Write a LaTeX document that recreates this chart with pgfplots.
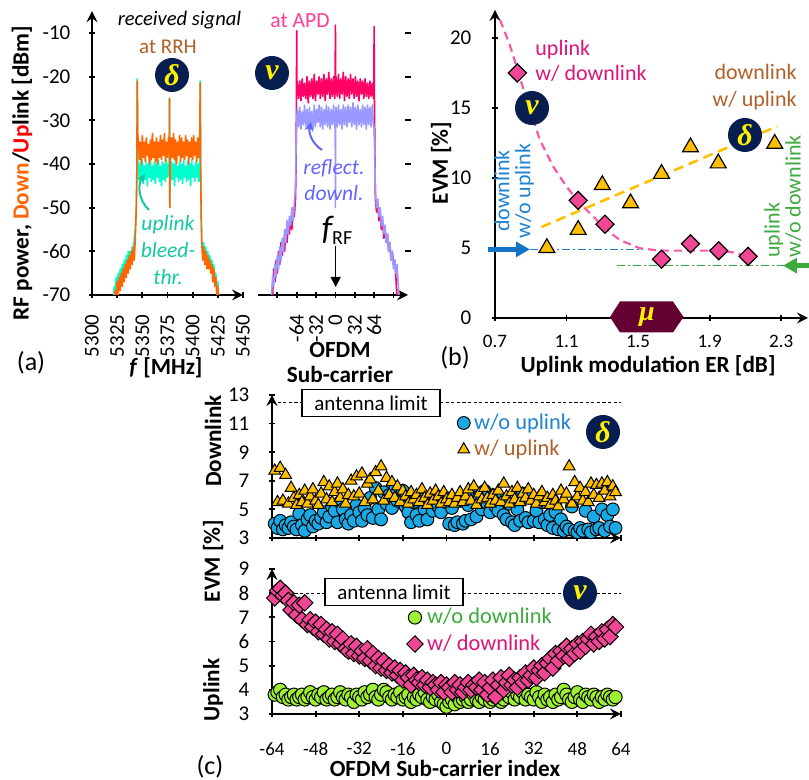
\documentclass[border=0pt]{standalone}
\usepackage{fontspec}
\setmainfont{Carlito}
\newfontfamily\grk{Liberation Serif}
\usepackage{pgfplots}
\pgfplotsset{compat=1.18}
\usepackage{pgfplotstable}
\usetikzlibrary{arrows.meta}
\definecolor{cOrange}{RGB}{255,102,0}
\definecolor{cTeal}{RGB}{0,255,204}
\definecolor{cTealTxt}{RGB}{20,200,160}
\definecolor{cPinkSp}{RGB}{255,0,102}
\definecolor{cLBlue}{RGB}{153,153,255}
\definecolor{cBlueTxt}{RGB}{100,100,255}
\definecolor{cBrown}{RGB}{176,96,40}
\definecolor{cAPD}{RGB}{255,60,150}
\definecolor{cNavy}{RGB}{8,30,80}
\definecolor{cMaroon}{RGB}{100,0,50}
\definecolor{cGold}{RGB}{255,192,0}
\definecolor{cCyan}{RGB}{25,170,230}
\definecolor{cLime}{RGB}{160,240,50}
\definecolor{cPinkM}{RGB}{240,70,150}
\definecolor{cPinkTxt}{RGB}{220,20,120}
\definecolor{cBlueLbl}{RGB}{30,130,210}
\definecolor{cGreenLbl}{RGB}{60,170,60}
\definecolor{cFitPink}{RGB}{245,90,170}
\definecolor{cBlueArr}{RGB}{20,115,200}
\newcommand\fsT{\fontsize{10.5}{12}\selectfont}
\newcommand\fsTs{\fontsize{9.5}{11}\selectfont}
\newcommand\fsLab{\fontsize{11.6}{12.5}\selectfont\bfseries}
\newcommand\fsP{\fontsize{13}{14}\selectfont}

\pgfplotstableread{
x dlwo dlw ulwo ulw
-63 4.0 7.7 3.8 7.8
-62 3.7 5.5 3.9 8.1
-61 4.2 7.9 4.0 8.2
-60 3.6 5.6 3.7 7.9
-59 3.9 7.4 3.8 8.0
-58 3.7 5.4 3.6 7.7
-57 4.1 6.5 3.7 7.3
-56 3.8 5.8 3.8 7.6
-55 3.6 5.3 3.6 7.1
-54 4.7 6.0 3.7 7.5
-53 3.9 5.5 3.8 6.9
-52 3.5 6.3 3.6 7.6
-51 4.3 5.4 3.7 6.7
-50 4.6 5.9 3.9 6.9
-49 3.8 6.4 3.7 6.6
-48 4.2 5.6 3.6 6.8
-47 4.0 5.3 3.8 6.4
-46 4.4 6.1 3.7 6.7
-45 4.8 6.9 3.9 6.3
-44 4.1 5.7 3.6 6.5
-43 4.5 6.6 3.7 6.1
-42 5.2 5.5 3.8 6.4
-41 4.9 6.2 3.6 6.0
-40 4.1 6.8 3.7 6.3
-39 5.5 5.8 3.9 5.9
-38 5.0 6.4 3.7 6.1
-37 4.3 5.4 3.6 5.7
-36 4.0 6.0 3.8 5.6
-35 4.6 7.0 3.7 5.9
-34 4.2 5.9 3.5 5.5
-33 5.3 7.3 3.8 5.8
-32 4.8 6.1 3.7 5.4
-31 4.2 7.5 3.6 5.6
-30 5.1 5.5 3.9 5.3
-29 4.6 6.8 3.7 5.7
-28 5.8 7.1 3.8 5.2
-27 4.4 5.7 4.0 5.5
-26 6.5 7.6 3.7 5.0
-25 5.0 6.3 3.6 5.3
-24 4.3 8.0 3.8 4.9
-23 6.2 5.6 4.0 5.2
-22 5.4 7.2 3.9 4.8
-21 6.0 6.0 3.7 5.0
-20 5.1 6.9 3.6 4.7
-19 6.4 5.8 3.8 4.9
-18 5.6 6.6 3.7 4.6
-17 5.9 5.5 3.9 4.8
-16 6.3 6.3 3.6 4.4
-15 5.2 5.9 3.7 4.7
-14 4.8 5.4 3.8 4.5
-13 4.1 6.2 3.5 4.2
-12 5.5 5.7 3.7 4.6
-11 4.6 6.0 3.6 4.4
-10 4.2 5.5 3.8 4.3
-9 5.7 6.4 3.7 4.5
-8 5.0 5.8 3.9 4.2
-7 4.3 5.3 3.6 4.4
-6 5.4 6.1 3.5 4.1
-5 4.9 5.6 3.7 4.3
-4 5.8 6.3 3.6 4.2
-3 5.2 5.9 3.8 4.0
-2 4.8 5.4 3.5 4.3
-1 5.9 6.2 3.4 3.9
0 5.5 5.7 3.3 4.2
1 4.0 5.5 3.5 4.1
2 5.1 6.0 3.6 3.9
3 3.9 5.4 3.4 4.3
4 4.1 5.8 3.7 4.0
5 5.6 6.2 3.5 4.2
6 4.0 5.5 3.6 3.9
7 4.2 5.9 3.7 4.1
8 5.3 6.4 3.5 4.3
9 4.3 5.6 3.6 4.0
10 6.2 6.6 3.8 4.2
11 4.5 5.3 3.6 4.1
12 5.9 6.1 3.5 4.4
13 5.0 5.7 3.7 4.0
14 6.3 6.5 3.6 4.3
15 5.4 5.8 3.8 3.8
16 4.8 5.4 3.5 4.1
17 6.0 6.0 3.6 4.4
18 5.2 5.6 3.7 3.7
19 4.9 6.3 3.9 4.2
20 5.7 5.5 3.5 4.5
21 4.6 6.8 3.6 4.0
22 4.3 5.9 3.8 4.3
23 5.4 5.4 3.7 4.6
24 4.1 6.2 3.9 4.2
25 3.9 5.7 3.6 4.4
26 5.0 6.5 3.8 4.1
27 4.2 5.5 3.7 4.5
28 6.1 6.1 3.9 4.3
29 4.4 5.8 3.6 4.7
30 4.1 6.4 3.8 4.4
31 5.8 5.6 3.7 4.6
32 4.2 6.0 3.6 4.9
33 4.9 5.4 3.9 4.5
34 4.1 5.9 3.7 4.8
35 5.5 6.2 3.5 5.0
36 4.3 5.5 3.8 4.7
37 3.9 5.8 3.6 5.1
38 4.6 5.3 3.7 5.3
39 3.7 6.0 3.5 4.9
40 4.8 5.6 3.8 5.5
41 3.6 5.2 3.6 5.2
42 4.3 6.3 3.7 5.6
43 3.5 5.7 4.0 5.4
44 3.8 6.1 3.8 5.8
45 3.6 8.0 3.6 5.3
46 5.2 5.4 3.5 5.7
47 3.5 6.9 3.7 5.5
48 3.4 5.9 3.9 5.9
49 3.7 6.5 3.6 5.6
50 3.5 5.6 3.5 6.0
51 4.9 6.2 3.8 5.8
52 3.6 5.5 3.7 6.1
53 3.4 6.8 3.6 6.3
54 4.5 6.0 3.8 5.9
55 3.6 6.7 3.7 6.2
56 3.7 5.8 3.5 6.0
57 5.0 6.8 3.7 6.4
58 3.5 6.3 3.6 6.1
59 4.6 6.9 3.8 6.5
60 3.8 5.9 3.7 6.2
61 5.0 6.6 3.6 6.7
62 3.7 6.2 3.7 6.6
}\evmtab

\pgfplotsset{
  common/.style={scale only axis, anchor=south west,
    axis line style={-, line width=1.4pt},
    tick style={black, line width=0.9pt}, major tick length=2.6pt,
    /pgf/number format/assume math mode=true,
    /pgf/number format/set thousands separator={}},
}
\tikzset{badge/.style={circle, fill=cNavy, text=yellow, inner sep=0pt, minimum size=17pt,
  font=\grk\bfseries\itshape\fontsize{15}{15}\selectfont}}

\begin{document}
\begin{tikzpicture}
\useasboundingbox (0,0) rectangle (404.5pt,390pt);

% ---------------- (a) left: spectrum at RRH
\begin{axis}[common, at={(46pt,242.5pt)}, width=75.5pt, height=141.9pt,
  xmin=5300, xmax=5450, ymin=-70, ymax=-5,
  axis x line=bottom, axis y line=left,
  xtick={5300,5325,...,5450}, ytick={-70,-60,...,-10},
  xticklabel style={rotate=90, anchor=east, font=\fsT}, xticklabel shift=5pt,
  yticklabel style={font=\fsT}, yticklabel shift=6pt]
\addplot[cTeal, line width=0.8pt, line join=round] coordinates {
(5321,-73) (5322,-68) (5323,-70) (5324,-66) (5325,-69) (5326,-65) (5327,-68) (5328,-64) (5329,-67) (5330,-63) (5331,-66) (5332,-62) (5333,-65) (5334,-61) (5335,-64) (5336,-60) (5337,-63) (5338,-60) (5339,-62) (5340,-59) (5341,-61) (5342,-57) (5343,-55) (5344,-50) (5344.5,-44) (5345,-20.5) (5345.5,-40)
(5346,-39.5) (5347,-44) (5348,-40) (5349,-43) (5350,-39) (5351,-44.5) (5352,-40.5) (5353,-43.5) (5354,-39.5) (5355,-45) (5356,-40) (5357,-43) (5358,-39) (5359,-44) (5360,-40.5) (5361,-43.5) (5362,-39.5) (5363,-44.5) (5364,-40) (5365,-43) (5366,-39) (5367,-44) (5368,-40.5) (5369,-45) (5370,-39.5) (5371,-43.5) (5372,-40) (5373,-44) (5374,-39) (5375,-43) (5376,-40) (5376.7,-42) (5377,-25) (5377.3,-50) (5377.6,-42) (5378,-44) (5379,-39.5) (5380,-43.5) (5381,-40) (5382,-45) (5383,-39) (5384,-43) (5385,-40.5) (5386,-44) (5387,-39.5) (5388,-43.5) (5389,-40) (5390,-44.5) (5391,-39) (5392,-43) (5393,-40.5) (5394,-44) (5395,-39.5) (5396,-43.5) (5397,-40) (5398,-45) (5399,-39) (5400,-43) (5401,-40.5) (5402,-44) (5403,-39.5) (5404,-43) (5405,-40) (5406,-44) (5407,-39.5) (5407.5,-21) (5408,-44) (5408.5,-52)
(5409,-57) (5410,-61) (5411,-58) (5412,-62) (5413,-59) (5414,-63) (5415,-60) (5416,-63) (5417,-61) (5418,-64) (5419,-62) (5420,-65) (5421,-63) (5422,-67) (5423,-65) (5424,-69) (5425,-67) (5426,-71) (5427,-74)};
\addplot[cOrange, line width=0.8pt, line join=round] coordinates {
(5322,-73) (5323,-69) (5324,-71) (5325,-67) (5326,-70) (5327,-66) (5328,-69) (5329,-65) (5330,-68) (5331,-64) (5332,-67) (5333,-63) (5334,-66) (5335,-62) (5336,-65) (5337,-61) (5338,-64) (5339,-60) (5340,-63) (5341,-59) (5342,-62) (5343,-57) (5344,-50) (5344.5,-42) (5345,-21) (5345.5,-36)
(5346,-34) (5347,-39) (5348,-35) (5349,-40) (5350,-33.5) (5351,-38.5) (5352,-35) (5353,-39.5) (5354,-34) (5355,-38) (5356,-35.5) (5357,-40) (5358,-34.5) (5359,-39) (5360,-33) (5361,-38.5) (5362,-35) (5363,-39.5) (5364,-34) (5365,-40) (5366,-35) (5367,-38.5) (5368,-33.5) (5369,-39) (5370,-34.5) (5371,-38) (5372,-33) (5373,-39.5) (5374,-35) (5375,-38.5) (5376,-34) (5376.7,-37) (5377,-25) (5377.3,-50) (5377.6,-37) (5378,-39) (5379,-34) (5380,-38.5) (5381,-33) (5382,-39) (5383,-34.5) (5384,-40) (5385,-35) (5386,-38) (5387,-33.5) (5388,-39.5) (5389,-34) (5390,-38.5) (5391,-35) (5392,-39) (5393,-33.5) (5394,-38) (5395,-34.5) (5396,-40) (5397,-35) (5398,-38.5) (5399,-34) (5400,-39) (5401,-33.5) (5402,-38) (5403,-35) (5404,-39.5) (5405,-34) (5406,-38.5) (5407,-34.5) (5407.5,-21.5) (5408,-42) (5408.5,-52)
(5409,-58) (5410,-62) (5411,-59) (5412,-63) (5413,-60) (5414,-64) (5415,-61) (5416,-64) (5417,-62) (5418,-65) (5419,-63) (5420,-67) (5421,-64) (5422,-68) (5423,-66) (5424,-70) (5425,-68) (5426,-73)};
\end{axis}

% ---------------- (a) right: spectrum at APD
\begin{axis}[common, at={(129pt,242.5pt)}, width=75pt, height=141.9pt,
  xmin=-128, xmax=120, ymin=-70, ymax=-5,
  axis x line=bottom, axis y line=right, y axis line style={draw=none},
  xtick={-96,-64,-32,0,32,64,96}, xticklabels={,-64,-32,0,32,64,},
  ytick={-60,-50,...,-10}, yticklabels={},
  xticklabel style={rotate=90, anchor=east, font=\fsT}, xticklabel shift=5pt]
\addplot[cPinkSp, line width=0.8pt, line join=round] coordinates {
(-104,-71) (-102,-64) (-100,-67) (-98,-62) (-96,-65) (-94,-60) (-92,-63) (-90,-58) (-88,-61) (-86,-57) (-84,-60) (-82,-55) (-80,-58) (-78,-54) (-76,-56) (-74,-52) (-72,-55) (-70,-50) (-68,-52) (-66,-48) (-65,-40) (-64.5,-25) (-64,-9.5) (-63.5,-24)
(-63,-21.5) (-61,-25) (-59,-21) (-57,-25.5) (-55,-20.5) (-53,-24.5) (-51,-21.5) (-49,-25) (-47,-20) (-45,-26) (-43,-21) (-41,-24.5) (-39,-20.5) (-37,-25) (-35,-19.5) (-33,-25.5) (-31,-21) (-29,-24) (-27,-20) (-25,-25) (-23,-20.5) (-21,-24.5) (-19,-19.5) (-17,-25.5) (-15,-20.5) (-13,-24) (-11,-19) (-9,-25) (-7,-20.5) (-5,-24.5) (-3,-20) (-1,-25)
(-0.5,-23) (0,-8.2) (0.5,-23)
(1,-20) (3,-24.5) (5,-19.5) (7,-25) (9,-20.5) (11,-24) (13,-19) (15,-25.5) (17,-20) (19,-24.5) (21,-20.5) (23,-25) (25,-19.5) (27,-24) (29,-20.5) (31,-25) (33,-20) (35,-24.5) (37,-21) (39,-25.5) (41,-20.5) (43,-24) (45,-21) (47,-25) (49,-20.5) (51,-24.5) (53,-21.5) (55,-25) (57,-21) (59,-24.5) (61,-21.5) (63,-25)
(63.5,-24) (64,-8.5) (64.5,-25)
(66,-48) (68,-51) (70,-49) (72,-53) (74,-51) (76,-55) (78,-53) (80,-57) (82,-55) (84,-58) (86,-56) (88,-60) (90,-58) (92,-62) (94,-60) (96,-63) (98,-62) (100,-66) (102,-71)};
\addplot[cLBlue, line width=0.8pt, line join=round] coordinates {
(-106,-71) (-104,-66) (-102,-68) (-100,-63) (-98,-66) (-96,-61) (-94,-64) (-92,-59) (-90,-62) (-88,-57) (-86,-60) (-84,-55) (-82,-58) (-80,-53) (-78,-56) (-76,-52) (-74,-54) (-72,-50) (-70,-53) (-68,-49) (-66,-45) (-65,-35) (-64,-30)
(-63,-27.5) (-61,-31.5) (-59,-27) (-57,-32) (-55,-28) (-53,-31) (-51,-26.5) (-49,-31.5) (-47,-27.5) (-45,-32) (-43,-27) (-41,-31) (-39,-28) (-37,-32) (-35,-26.5) (-33,-31.5) (-31,-27.5) (-29,-30.5) (-27,-26.5) (-25,-31.5) (-23,-27) (-21,-32) (-19,-27.5) (-17,-31) (-15,-26.5) (-13,-31.5) (-11,-27) (-9,-32) (-7,-27.5) (-5,-31) (-3,-26.5) (-1,-31.5)
(-0.3,-29) (0,-50) (0.3,-29)
(1,-27) (3,-31.5) (5,-26.5) (7,-31) (9,-27.5) (11,-32) (13,-26.5) (15,-31) (17,-27) (19,-31.5) (21,-26.5) (23,-30.5) (25,-27) (27,-31.5) (29,-26) (31,-31) (33,-27) (35,-32) (37,-26.5) (39,-31) (41,-27.5) (43,-31.5) (45,-26.5) (47,-31) (49,-27) (51,-32) (53,-26.5) (55,-31) (57,-27) (59,-31.5) (61,-26.5) (63,-31)
(64,-32) (65,-38) (66,-46) (68,-50) (70,-48) (72,-52) (74,-50) (76,-54) (78,-52) (80,-56) (82,-54) (84,-58) (86,-56) (88,-60) (90,-58) (92,-62) (94,-60) (96,-64) (98,-62) (100,-65) (102,-63) (104,-68) (106,-72)};
\end{axis}

% ---------------- (b) EVM vs ER
\begin{axis}[common, at={(247.5pt,231pt)}, width=156.5pt, height=154pt,
  xmin=0.7, xmax=2.45, ymin=0, ymax=22, clip=false,
  axis x line=bottom, axis y line=left,
  xtick={0.7,1.1,1.5,1.9,2.3}, ytick={0,5,...,20},
  xticklabel style={font=\fsTs, /pgf/number format/fixed, /pgf/number format/precision=1, /pgf/number format/fixed zerofill},
  yticklabel style={font=\fsT}, xticklabel shift=4pt, yticklabel shift=7pt]
\addplot[cFitPink, line width=1.1pt, dash pattern=on 4pt off 2.5pt] coordinates {
(0.728,21.3) (0.78,19.6) (0.821,17.95) (0.86,16.3) (0.896,14.86) (0.951,12.71) (1.026,10.81) (1.10,9.38) (1.175,8.19) (1.249,7.24) (1.324,6.29) (1.398,5.57) (1.51,4.98) (1.622,4.81) (1.771,4.81) (1.92,4.81) (2.031,4.69) (2.125,4.38)};
\addplot[cGold, line width=1.3pt, dash pattern=on 5pt off 3pt] coordinates {(0.96,6.5) (2.28,13.7)};
\addplot[cBlueLbl, line width=0.7pt, dash pattern=on 4pt off 1.5pt on 1pt off 1.5pt] coordinates {(0.895,4.9) (1.527,4.9)};
\addplot[cGreenLbl, line width=0.7pt, dash pattern=on 4pt off 1.5pt on 1pt off 1.5pt] coordinates {(1.38,3.74) (2.33,3.74)};
\addplot[cBlueArr, line width=2.5pt, -{Triangle[length=7pt,width=7.5pt]}] coordinates {(0.66,4.9) (0.895,4.9)};
\addplot[cGreenLbl, line width=2.5pt, -{Triangle[length=7pt,width=7.5pt]}] coordinates {(2.5,3.74) (2.31,3.74)};
\addplot[only marks, mark=triangle*, mark size=4.6pt, mark options={fill=cGold, draw=black, line width=0.6pt}] coordinates {
(0.99,5.0) (1.165,6.3) (1.30,9.5) (1.458,8.2) (1.631,10.3) (1.793,12.2) (1.948,11.05) (2.264,12.45)};
\addplot[only marks, mark=square*, mark size=3.2pt, mark options={rotate=45, fill=cPinkM, draw=black, line width=0.6pt}] coordinates {
(0.825,17.5) (1.165,8.4) (1.315,6.7) (1.631,4.2) (1.793,5.3) (1.951,4.8) (2.115,4.4)};
\end{axis}

% ---------------- (c) top: downlink EVM
\begin{axis}[common, at={(136pt,121pt)}, width=174.5pt, height=71.5pt,
  xmin=-64, xmax=64, ymin=3, ymax=13,
  axis x line=bottom, axis y line=left,
  xtick={-64,-48,...,64}, xticklabels={}, ytick={3,5,...,13},
  yticklabel style={font=\fsT}, yticklabel shift=6.5pt,
  legend style={at={(0.53,0.9)}, anchor=north west, draw=none, fill=none,
    inner sep=0pt, row sep=0pt, font=\fontsize{11.2}{12}\selectfont},
  legend cell align=left]
\addplot[black, line width=0.5pt, dash pattern=on 1.6pt off 1.2pt, forget plot] coordinates {(-64,12.5) (64,12.5)};
\addplot[only marks, mark=*, mark size=3.2pt, mark options={fill=cCyan, draw=black, line width=0.5pt}] table[x=x, y=dlwo] {\evmtab};
\addlegendentry{\textcolor{cBlueLbl}{w/o uplink}}
\addplot[only marks, mark=triangle*, mark size=3.4pt, mark options={fill=cGold, draw=black, line width=0.5pt}] table[x=x, y=dlw] {\evmtab};
\addlegendentry{\textcolor{cBrown}{w/ uplink}}
\end{axis}

% ---------------- (c) bottom: uplink EVM
\begin{axis}[common, at={(136pt,33pt)}, width=174.5pt, height=72.5pt,
  xmin=-64, xmax=64, ymin=3, ymax=9,
  axis x line=bottom, axis y line=left,
  xtick={-64,-48,...,64}, ytick={3,4,...,9},
  xticklabel style={font=\fsTs}, xticklabel shift=9.5pt,
  yticklabel style={font=\fsT}, yticklabel shift=6.5pt,
  legend style={at={(0.385,0.76)}, anchor=north west, draw=none, fill=none,
    inner sep=0pt, row sep=0pt, font=\fontsize{11.2}{12}\selectfont},
  legend cell align=left]
\addplot[black, line width=0.5pt, dash pattern=on 1.6pt off 1.2pt, forget plot] coordinates {(-64,8) (64,8)};
\addplot[only marks, mark=*, mark size=3.3pt, mark options={fill=cLime, draw=black, line width=0.5pt}] table[x=x, y=ulwo] {\evmtab};
\addlegendentry{\textcolor{cGreenLbl}{w/o downlink}}
\addplot[only marks, mark=square*, mark size=2.9pt, mark options={rotate=45, fill=cPinkM, draw=black, line width=0.5pt}] table[x=x, y=ulw] {\evmtab};
\addlegendentry{\textcolor{cPinkTxt}{w/ downlink}}
\end{axis}

% ---------------- annotations (pixel coordinates, y downwards)
\begin{scope}[shift={(0pt,390pt)}, x=0.5pt, y=-0.5pt]
% (a)
\node[inner sep=0pt, font=\fontsize{10.3}{12}\selectfont\itshape] at (179.5,20) {received signal};
\node[inner sep=0pt, font=\fontsize{10.5}{12}\selectfont, text=cBrown] at (168,47) {at RRH};
\node[inner sep=0pt, font=\fontsize{10.8}{12}\selectfont, text=cAPD] at (300,21) {at APD};
\node[badge] at (172,75) {δ};
\node[badge] at (272,73) {ν};
\node[inner sep=0pt, font=\fontsize{10.8}{13.5}\selectfont\itshape, text=cTealTxt, align=center] at (168,250) {uplink\\bleed-\\thr.};
\draw[cTealTxt, line width=1pt, -{Stealth[length=4.5pt,width=4.5pt]}] (149,210) to[bend left=40] (145,174);
\node[inner sep=0pt, font=\fontsize{10.8}{13}\selectfont\itshape, text=cBlueTxt, align=center] at (334,180) {reflect.\\downl.};
\draw[cBlueTxt, line width=1pt, -{Stealth[length=4.5pt,width=4.5pt]}] (322,150) to[bend left=35] (311,122);
\node[inner sep=0pt] at (337,230) {{\fontsize{17}{17}\selectfont\itshape f}{\fontsize{10}{10}\selectfont\raisebox{-2.5pt}{RF}}};
\draw[line width=0.6pt, -{Triangle[length=5pt,width=5pt]}] (335.7,246) -- (335.7,287);
\node[inner sep=0pt, font=\fsLab, rotate=90] at (22,173) {RF power, \textcolor{cOrange}{Down}/\textcolor{red}{Up}link [dBm]};
\node[inner sep=0pt, font=\fsLab] at (166,368) {\textit{f} [MHz]};
\node[inner sep=0pt, font=\fsLab, align=center] at (340,362) {OFDM\\Sub-carrier};
\node[inner sep=0pt, font=\fsP] at (31,363) {(a)};
% (b)
\node[inner sep=0pt, font=\fontsize{11}{12.5}\selectfont, text=cPinkTxt, align=left, anchor=west] at (535,61) {uplink\\w/ downlink};
\node[inner sep=0pt, font=\fontsize{11}{13.5}\selectfont, text=cBrown, align=right, anchor=east] at (797,87) {downlink\\w/ uplink};
\node[inner sep=0pt, font=\fontsize{11}{10.5}\selectfont, text=cBlueLbl, align=center, rotate=90] at (514,191) {downlink\\w/o uplink};
\node[inner sep=0pt, font=\fontsize{11}{10.5}\selectfont, text=cGreenLbl, align=left, rotate=90, anchor=west] at (783,258) {uplink\\w/o downlink};
\node[badge] at (532,108) {ν};
\node[badge] at (745,135) {δ};
\node[inner sep=0pt, font=\fsLab, rotate=90] at (441,163) {EVM [\%]};
\node[inner sep=0pt, font=\fsLab] at (648,366) {Uplink modulation ER [dB]};
\node[inner sep=0pt, font=\fsP] at (455,358) {(b)};
\fill[cMaroon] (610,317) -- (620,301.5) -- (673,301.5) -- (683.5,317) -- (673,332.5) -- (620,332.5) -- cycle;
\node[inner sep=0pt, text=yellow, font=\grk\bfseries\itshape\fontsize{14}{14}\selectfont] at (647,317) {μ};
% (c)
\node[draw=black, fill=white, line width=0.6pt, inner sep=0pt, minimum width=69pt, minimum height=13.5pt, font=\fontsize{10.5}{12}\selectfont] at (371,403) {antenna limit};
\node[draw=black, fill=white, line width=0.6pt, inner sep=0pt, minimum width=69pt, minimum height=13.5pt, font=\fontsize{10.5}{12}\selectfont] at (394,592) {antenna limit};
\node[badge] at (603,432) {δ};
\node[badge] at (580,593) {ν};
\node[inner sep=0pt, font=\fsLab, rotate=90] at (213,441) {Downlink};
\node[inner sep=0pt, font=\fsLab, rotate=90] at (213,561) {EVM [\%]};
\node[inner sep=0pt, font=\fsLab, rotate=90] at (213,690) {Uplink};
\node[inner sep=0pt, font=\fsLab] at (445,768) {OFDM Sub-carrier index};
\node[inner sep=0pt, font=\fsP] at (210,767) {(c)};
\end{scope}
\end{tikzpicture}
\end{document}
